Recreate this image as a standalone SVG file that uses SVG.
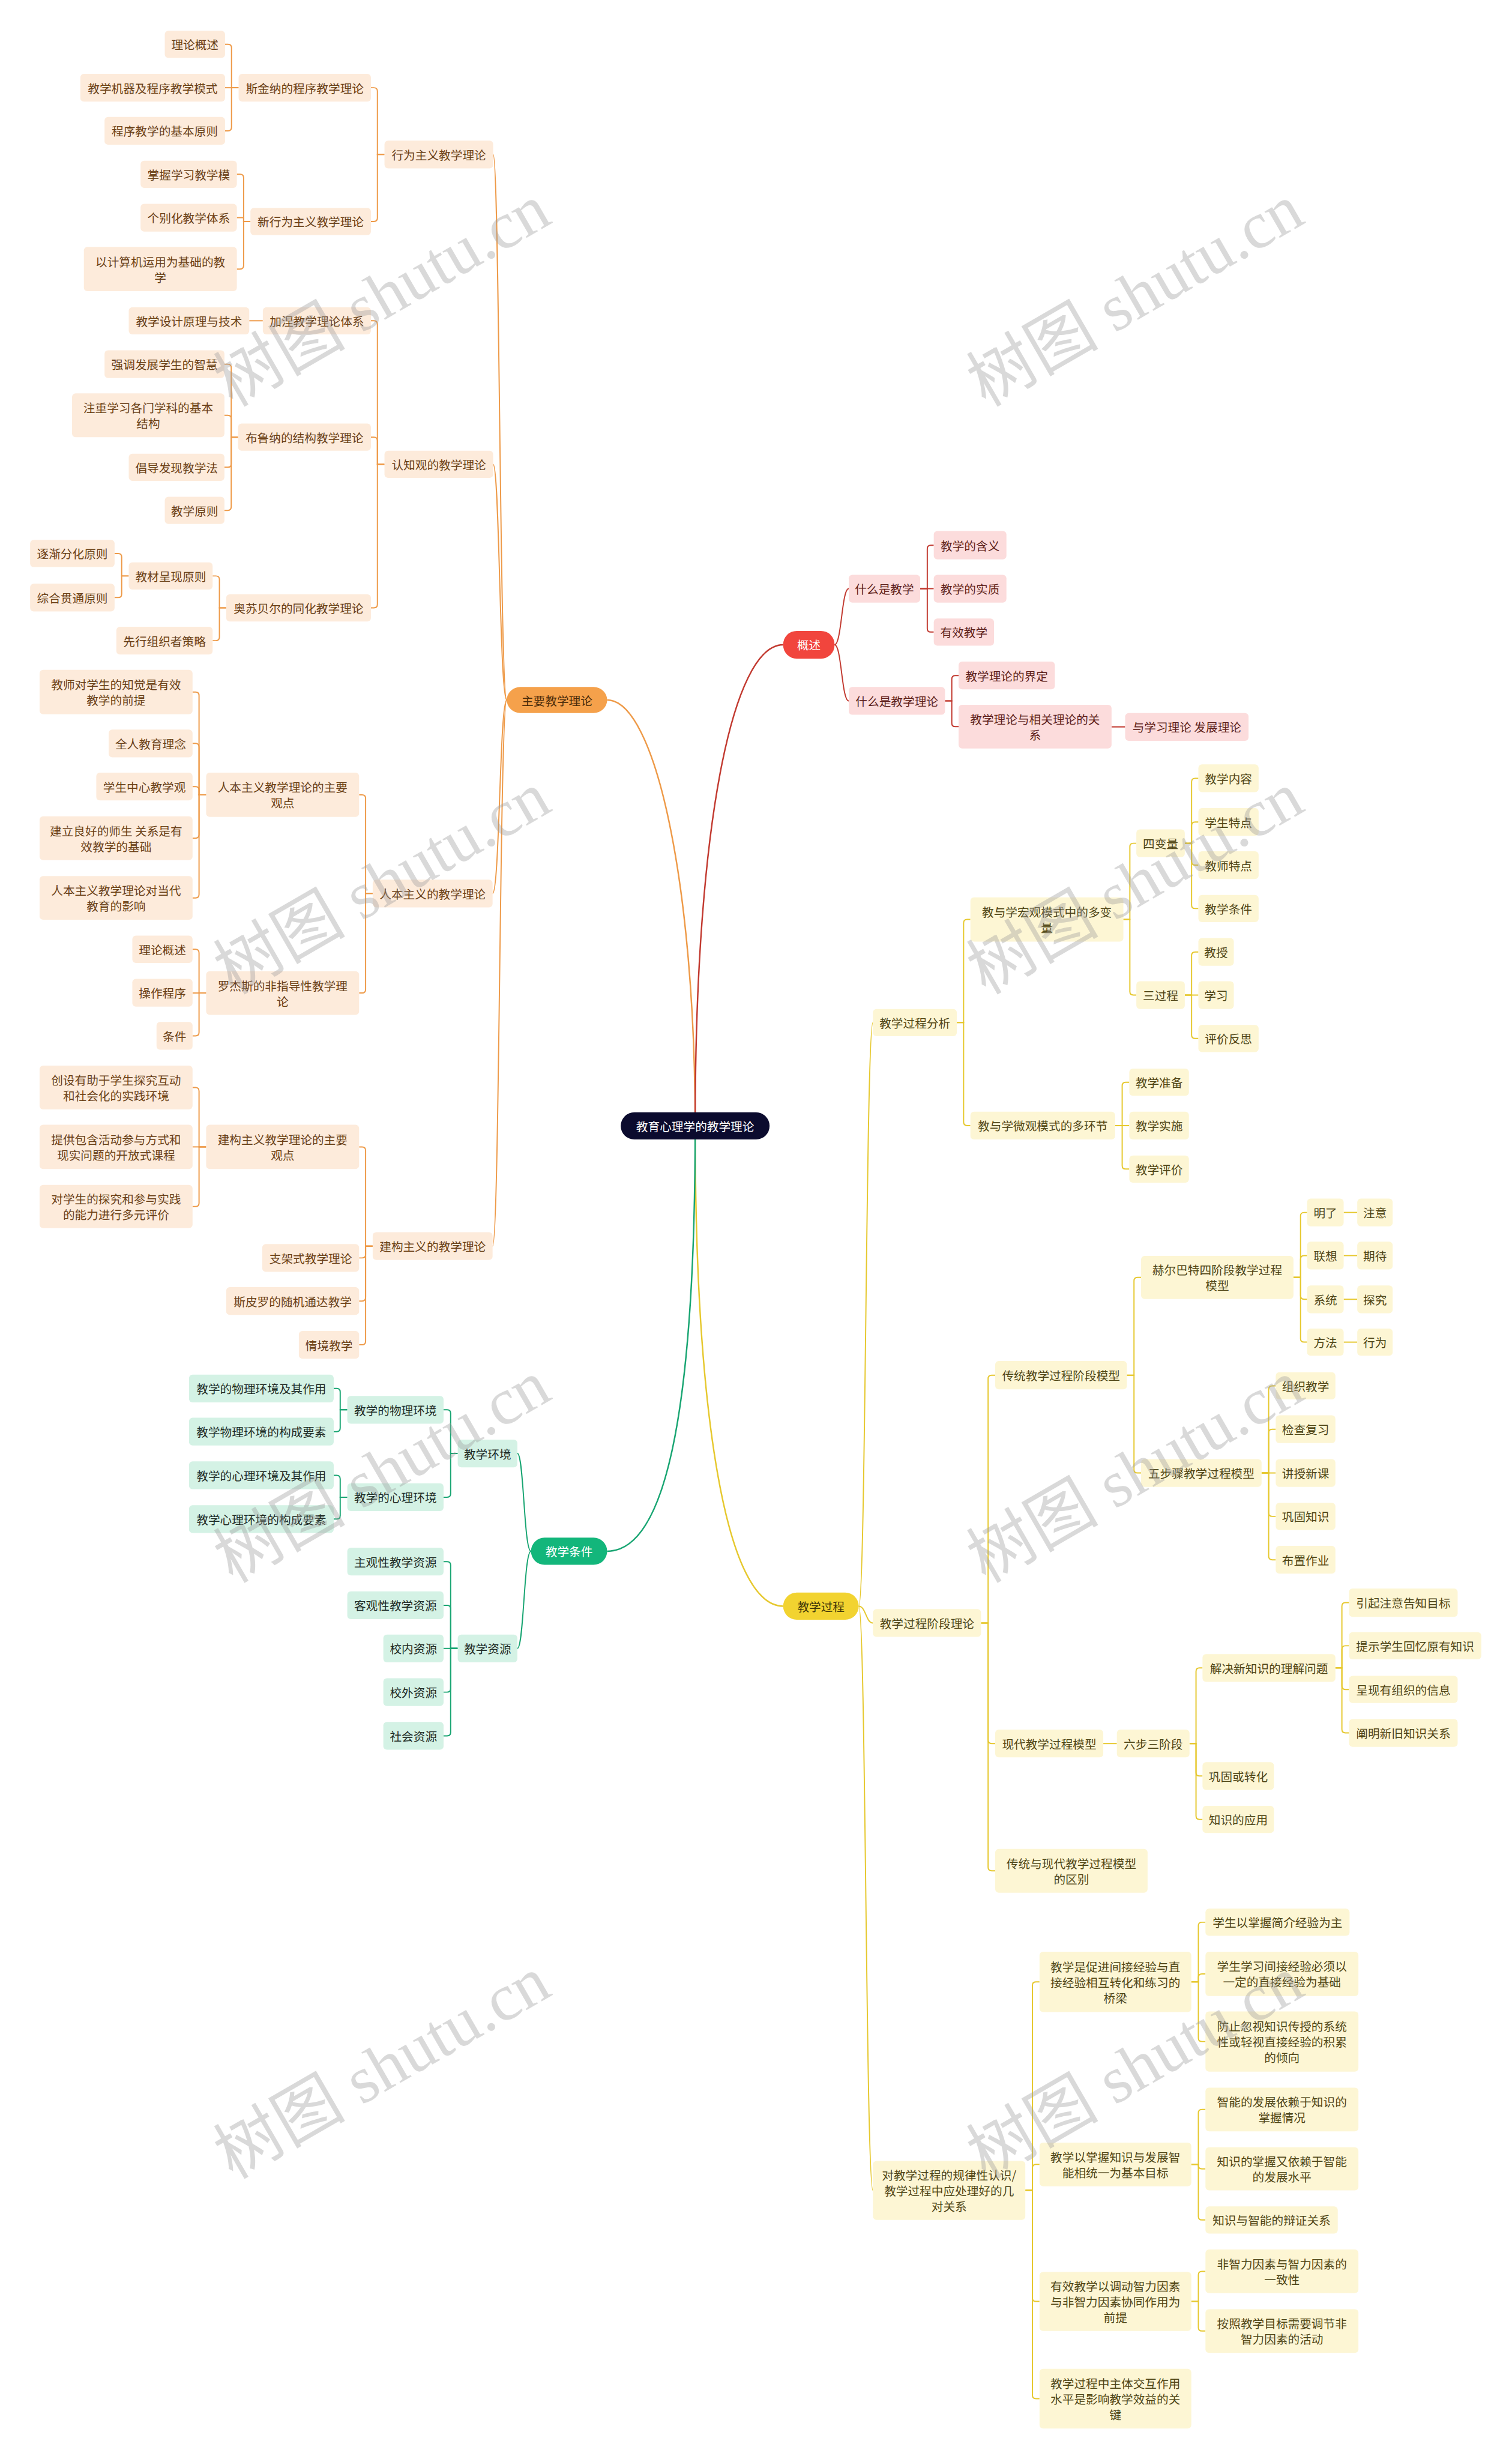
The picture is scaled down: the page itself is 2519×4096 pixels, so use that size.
<svg xmlns="http://www.w3.org/2000/svg" width="2519" height="4096" viewBox="0 0 2519 4096">
<style>
text{font-family:"Noto Sans CJK SC","Noto Sans",sans-serif;font-size:20px;text-anchor:middle;dominant-baseline:central}
rect{rx:6px;ry:6px}
.o rect{fill:#FDEBDB}.o text{fill:#6A4016}
.r rect{fill:#FCDCDC}.r text{fill:#5E1F1A}
.y rect{fill:#FDF6D4}.y text{fill:#4F4515}
.g rect{fill:#D4F2E5}.g text{fill:#1E2B25}
.pill rect{rx:23px;ry:23px}
.ob rect{fill:#F5A14B}.ob text{fill:#4A2C0A}
.rb rect{fill:#F1453D}.rb text{fill:#FFFFFF}
.yb rect{fill:#F2D330}.yb text{fill:#3E3508}
.gb rect{fill:#13B67B}.gb text{fill:#FFFFFF}
.root rect{fill:#0B0B2E}.root text{fill:#FFFFFF}
.co{stroke:#EE9A48}.cr{stroke:#C23A30}.cy{stroke:#E6C82E}.cg{stroke:#18A572}
.wm{font-family:"Liberation Serif","Noto Sans CJK SC",serif;font-size:112px;fill:#9a9a9a;fill-opacity:0.38;text-anchor:middle}
</style>
<rect x="0" y="0" width="2519" height="4096" fill="#FFFFFF" style="rx:0"/>
<g transform="scale(0.98398)">
<g id="connectors" fill="none" stroke-width="2">
<path class="co" stroke-width="2.5" d="M1177 1906 C1177 1500 1110 1185 1028 1185"/>
<path class="cr" stroke-width="2.5" d="M1177 1906 C1177 1400 1240 1091.5 1326 1091.5"/>
<path class="cy" stroke-width="2.5" d="M1177 1906 C1177 2400 1230 2719 1326 2719"/>
<path class="cg" stroke-width="2.5" d="M1177 1906 C1177 2350 1135 2626 1028 2626"/>
<g class="co">
<path d="M835 261.5 C846 261.5 846 1185 858 1185"/>
<path d="M835 786 C846 786 846 1185 858 1185"/>
<path d="M834 1512.5 C846 1512.5 846 1185 858 1185"/>
<path d="M834 2109.5 C846 2109.5 846 1185 858 1185"/>
<path d="M651 261.5 H639 V154.5 Q639 148.5 633 148.5 H628"/>
<path d="M651 261.5 H639 V369 Q639 375 633 375 H628"/>
<path d="M404 148.5 H392 V81 Q392 75 386 75 H381"/>
<path d="M404 148.5 H381"/>
<path d="M404 148.5 H392 V215.5 Q392 221.5 386 221.5 H381"/>
<path d="M424 375 H412.5 V301 Q412.5 295 406.5 295 H401"/>
<path d="M424 375 H412.5 V368.5 H401"/>
<path d="M424 375 H412.5 V449.5 Q412.5 455.5 406.5 455.5 H401"/>
<path d="M651 786 H639 V549 Q639 543 633 543 H628"/>
<path d="M651 786 H639 V746 Q639 740 633 740 H628"/>
<path d="M651 786 H639 V1023 Q639 1029 633 1029 H628"/>
<path d="M445 543 H422"/>
<path d="M403 740 H391.5 V622.5 Q391.5 616.5 385.5 616.5 H380"/>
<path d="M403 740 H391.5 V709 Q391.5 703 385.5 703 H380"/>
<path d="M403 740 H391.5 V785 Q391.5 791 385.5 791 H380"/>
<path d="M403 740 H391.5 V858 Q391.5 864 385.5 864 H380"/>
<path d="M383 1029 H371.5 V981 Q371.5 975 365.5 975 H360"/>
<path d="M383 1029 H371.5 V1078.5 Q371.5 1084.5 365.5 1084.5 H360"/>
<path d="M218 975 H206 V943 Q206 937 200 937 H194"/>
<path d="M218 975 H206 V1005.5 Q206 1011.5 200 1011.5 H194"/>
<path d="M631 1512.5 H619 V1351.5 Q619 1345.5 613 1345.5 H608"/>
<path d="M631 1512.5 H619 V1675 Q619 1681 613 1681 H608"/>
<path d="M349 1345.5 H337 V1177.5 Q337 1171.5 331 1171.5 H326"/>
<path d="M349 1345.5 H337 V1264.5 Q337 1258.5 331 1258.5 H326"/>
<path d="M349 1345.5 H337 V1337.5 Q337 1331.5 331 1331.5 H326"/>
<path d="M349 1345.5 H337 V1413 Q337 1419 331 1419 H326"/>
<path d="M349 1345.5 H337 V1514 Q337 1520 331 1520 H326"/>
<path d="M349 1681 H337 V1613 Q337 1607 331 1607 H326"/>
<path d="M349 1681 H326"/>
<path d="M349 1681 H337 V1747.5 Q337 1753.5 331 1753.5 H326"/>
<path d="M631 2109.5 H619 V1947.5 Q619 1941.5 613 1941.5 H608"/>
<path d="M631 2109.5 H619 V2123.5 Q619 2129.5 613 2129.5 H608"/>
<path d="M631 2109.5 H619 V2196.5 Q619 2202.5 613 2202.5 H608"/>
<path d="M631 2109.5 H619 V2270.5 Q619 2276.5 613 2276.5 H608"/>
<path d="M349 1941.5 H337 V1847 Q337 1841 331 1841 H326"/>
<path d="M349 1941.5 H326"/>
<path d="M349 1941.5 H337 V2036.5 Q337 2042.5 331 2042.5 H326"/>
</g>
<g class="cg">
<path d="M876 2460.5 C887 2460.5 887 2626 899 2626"/>
<path d="M876 2790.5 C887 2790.5 887 2626 899 2626"/>
<path d="M775 2460.5 H763 V2392.5 Q763 2386.5 757 2386.5 H751"/>
<path d="M775 2460.5 H763 V2528.5 Q763 2534.5 757 2534.5 H751"/>
<path d="M588 2386.5 H576 V2356.5 Q576 2350.5 570 2350.5 H565"/>
<path d="M588 2386.5 H576 V2417.5 Q576 2423.5 570 2423.5 H565"/>
<path d="M588 2534.5 H576 V2503.5 Q576 2497.5 570 2497.5 H565"/>
<path d="M588 2534.5 H576 V2565.5 Q576 2571.5 570 2571.5 H565"/>
<path d="M775 2790.5 H763 V2649.5 Q763 2643.5 757 2643.5 H751"/>
<path d="M775 2790.5 H763 V2723.5 Q763 2717.5 757 2717.5 H751"/>
<path d="M775 2790.5 H751"/>
<path d="M775 2790.5 H763 V2858.5 Q763 2864.5 757 2864.5 H751"/>
<path d="M775 2790.5 H763 V2932.5 Q763 2938.5 757 2938.5 H751"/>
</g>
<g class="cr">
<path d="M1413 1091.5 C1425 1091.5 1425 996.5 1437 996.5"/>
<path d="M1413 1091.5 C1425 1091.5 1425 1186.5 1437 1186.5"/>
<path d="M1558 996.5 H1570 V929 Q1570 923 1576 923 H1581"/>
<path d="M1558 996.5 H1581"/>
<path d="M1558 996.5 H1570 V1064 Q1570 1070 1576 1070 H1581"/>
<path d="M1600 1186.5 H1611.5 V1149.5 Q1611.5 1143.5 1617.5 1143.5 H1623"/>
<path d="M1600 1186.5 H1611.5 V1224 Q1611.5 1230 1617.5 1230 H1623"/>
<path d="M1882 1230.5 H1905"/>
</g>
<g class="cy">
<path d="M1454 2719 C1466 2719 1466 1731 1478 1731"/>
<path d="M1454 2719 C1466 2719 1466 2747.5 1478 2747.5"/>
<path d="M1454 2719 C1466 2719 1466 3708 1478 3708"/>
<path d="M1620 1731 H1631.5 V1562.5 Q1631.5 1556.5 1637.5 1556.5 H1643"/>
<path d="M1620 1731 H1631.5 V1899.5 Q1631.5 1905.5 1637.5 1905.5 H1643"/>
<path d="M1902 1556.5 H1913 V1433.5 Q1913 1427.5 1919 1427.5 H1924"/>
<path d="M1902 1556.5 H1913 V1678.5 Q1913 1684.5 1919 1684.5 H1924"/>
<path d="M2006 1427.5 H2017.5 V1323.5 Q2017.5 1317.5 2023.5 1317.5 H2029"/>
<path d="M2006 1427.5 H2017.5 V1397.5 Q2017.5 1391.5 2023.5 1391.5 H2029"/>
<path d="M2006 1427.5 H2017.5 V1458.5 Q2017.5 1464.5 2023.5 1464.5 H2029"/>
<path d="M2006 1427.5 H2017.5 V1532 Q2017.5 1538 2023.5 1538 H2029"/>
<path d="M2006 1684.5 H2017.5 V1617.5 Q2017.5 1611.5 2023.5 1611.5 H2029"/>
<path d="M2006 1684.5 H2029"/>
<path d="M2006 1684.5 H2017.5 V1752 Q2017.5 1758 2023.5 1758 H2029"/>
<path d="M1888 1905.5 H1900 V1838 Q1900 1832 1906 1832 H1912"/>
<path d="M1888 1905.5 H1912"/>
<path d="M1888 1905.5 H1900 V1973 Q1900 1979 1906 1979 H1912"/>
<path d="M1661 2747.5 H1673 V2334 Q1673 2328 1679 2328 H1685"/>
<path d="M1661 2747.5 H1673 V2945.5 Q1673 2951.5 1679 2951.5 H1685"/>
<path d="M1661 2747.5 H1673 V3161 Q1673 3167 1679 3167 H1685"/>
<path d="M1908 2328 H1920 V2168.5 Q1920 2162.5 1926 2162.5 H1932"/>
<path d="M1908 2328 H1920 V2487.5 Q1920 2493.5 1926 2493.5 H1932"/>
<path d="M2190 2162.5 H2202 V2058.5 Q2202 2052.5 2208 2052.5 H2213"/>
<path d="M2190 2162.5 H2202 V2131.5 Q2202 2125.5 2208 2125.5 H2213"/>
<path d="M2190 2162.5 H2202 V2193.5 Q2202 2199.5 2208 2199.5 H2213"/>
<path d="M2190 2162.5 H2202 V2266 Q2202 2272 2208 2272 H2213"/>
<path d="M2275 2052.5 H2298"/>
<path d="M2275 2125.5 H2298"/>
<path d="M2275 2199.5 H2298"/>
<path d="M2275 2272 H2298"/>
<path d="M2136 2493.5 H2148 V2352 Q2148 2346 2154 2346 H2160"/>
<path d="M2136 2493.5 H2148 V2425.5 Q2148 2419.5 2154 2419.5 H2160"/>
<path d="M2136 2493.5 H2160"/>
<path d="M2136 2493.5 H2148 V2561 Q2148 2567 2154 2567 H2160"/>
<path d="M2136 2493.5 H2148 V2634.5 Q2148 2640.5 2154 2640.5 H2160"/>
<path d="M1868 2951.5 H1891"/>
<path d="M2014 2951.5 H2025 V2829.5 Q2025 2823.5 2031 2823.5 H2036"/>
<path d="M2014 2951.5 H2025 V3000.5 Q2025 3006.5 2031 3006.5 H2036"/>
<path d="M2014 2951.5 H2025 V3074 Q2025 3080 2031 3080 H2036"/>
<path d="M2261 2823.5 H2272 V2719 Q2272 2713 2278 2713 H2284"/>
<path d="M2261 2823.5 H2272 V2792 Q2272 2786 2278 2786 H2284"/>
<path d="M2261 2823.5 H2272 V2854 Q2272 2860 2278 2860 H2284"/>
<path d="M2261 2823.5 H2272 V2927.5 Q2272 2933.5 2278 2933.5 H2284"/>
<path d="M1736 3708 H1748 V3361 Q1748 3355 1754 3355 H1760"/>
<path d="M1736 3708 H1748 V3670 Q1748 3664 1754 3664 H1760"/>
<path d="M1736 3708 H1748 V3890 Q1748 3896 1754 3896 H1760"/>
<path d="M1736 3708 H1748 V4054.5 Q1748 4060.5 1754 4060.5 H1760"/>
<path d="M2017 3355 H2029 V3260 Q2029 3254 2035 3254 H2041"/>
<path d="M2017 3355 H2029 V3347.5 Q2029 3341.5 2035 3341.5 H2041"/>
<path d="M2017 3355 H2029 V3450 Q2029 3456 2035 3456 H2041"/>
<path d="M2017 3664 H2029 V3577 Q2029 3571 2035 3571 H2041"/>
<path d="M2017 3664 H2029 V3665.5 Q2029 3671.5 2035 3671.5 H2041"/>
<path d="M2017 3664 H2029 V3752 Q2029 3758 2035 3758 H2041"/>
<path d="M2017 3896 H2029 V3851 Q2029 3845 2035 3845 H2041"/>
<path d="M2017 3896 H2029 V3940 Q2029 3946 2035 3946 H2041"/>
</g>
</g>

<g id="root" class="root pill"><rect x="1051" y="1883" width="252" height="46"/><text x="1177" y="1906">教育心理学的教学理论</text></g>

<g id="b-zyjxll" class="ob pill"><rect x="858" y="1163" width="170" height="44"/><text x="943" y="1185">主要教学理论</text></g>
<g id="o-xwzy" class="o"><rect x="651" y="238" width="184" height="47"/><text x="743" y="261.5">行为主义教学理论</text></g>
<g id="o-sjn" class="o"><rect x="404" y="125" width="224" height="47"/><text x="516" y="148.5">斯金纳的程序教学理论</text></g>
<g id="o-llgs1" class="o"><rect x="279" y="52" width="102" height="46"/><text x="330" y="75">理论概述</text></g>
<g id="o-jxjq" class="o"><rect x="136" y="125" width="245" height="47"/><text x="258.5" y="148.5">教学机器及程序教学模式</text></g>
<g id="o-cxjx" class="o"><rect x="177" y="198" width="204" height="47"/><text x="279" y="221.5">程序教学的基本原则</text></g>
<g id="o-xxwzy" class="o"><rect x="424" y="352" width="204" height="46"/><text x="526" y="375">新行为主义教学理论</text></g>
<g id="o-zwxx" class="o"><rect x="238" y="272" width="163" height="46"/><text x="319.5" y="295">掌握学习教学模</text></g>
<g id="o-gbh" class="o"><rect x="238" y="345" width="163" height="47"/><text x="319.5" y="368.5">个别化教学体系</text></g>
<g id="o-jsj" class="o"><rect x="142" y="418" width="259" height="75"/><text x="271.5" y="442.25">以计算机运用为基础的教</text><text x="271.5" y="468.75">学</text></g>
<g id="o-rzg" class="o"><rect x="651" y="763" width="184" height="46"/><text x="743" y="786">认知观的教学理论</text></g>
<g id="o-jn" class="o"><rect x="445" y="520" width="183" height="46"/><text x="536.5" y="543">加涅教学理论体系</text></g>
<g id="o-jxsj" class="o"><rect x="218" y="520" width="204" height="46"/><text x="320" y="543">教学设计原理与技术</text></g>
<g id="o-bln" class="o"><rect x="403" y="717" width="225" height="46"/><text x="515.5" y="740">布鲁纳的结构教学理论</text></g>
<g id="o-qd" class="o"><rect x="177" y="593" width="203" height="47"/><text x="278.5" y="616.5">强调发展学生的智慧</text></g>
<g id="o-zz" class="o"><rect x="122" y="666" width="258" height="74"/><text x="251" y="689.75">注重学习各门学科的基本</text><text x="251" y="716.25">结构</text></g>
<g id="o-cd" class="o"><rect x="218" y="768" width="162" height="46"/><text x="299" y="791">倡导发现教学法</text></g>
<g id="o-jxyz" class="o"><rect x="279" y="841" width="101" height="46"/><text x="329.5" y="864">教学原则</text></g>
<g id="o-asbe" class="o"><rect x="383" y="1006" width="245" height="46"/><text x="505.5" y="1029">奥苏贝尔的同化教学理论</text></g>
<g id="o-jccx" class="o"><rect x="218" y="952" width="142" height="46"/><text x="289" y="975">教材呈现原则</text></g>
<g id="o-xxzz" class="o"><rect x="197" y="1061" width="163" height="47"/><text x="278.5" y="1084.5">先行组织者策略</text></g>
<g id="o-zjfh" class="o"><rect x="51" y="914" width="143" height="46"/><text x="122.5" y="937">逐渐分化原则</text></g>
<g id="o-zhgt" class="o"><rect x="51" y="988" width="143" height="47"/><text x="122.5" y="1011.5">综合贯通原则</text></g>
<g id="o-rbzy" class="o"><rect x="631" y="1489" width="203" height="47"/><text x="732.5" y="1512.5">人本主义的教学理论</text></g>
<g id="o-rbgd" class="o"><rect x="349" y="1308" width="259" height="75"/><text x="478.5" y="1332.25">人本主义教学理论的主要</text><text x="478.5" y="1358.75">观点</text></g>
<g id="o-jsdx" class="o"><rect x="67" y="1134" width="259" height="75"/><text x="196.5" y="1158.25">教师对学生的知觉是有效</text><text x="196.5" y="1184.75">教学的前提</text></g>
<g id="o-qr" class="o"><rect x="184" y="1235" width="142" height="47"/><text x="255" y="1258.5">全人教育理念</text></g>
<g id="o-xszx" class="o"><rect x="163" y="1308" width="163" height="47"/><text x="244.5" y="1331.5">学生中心教学观</text></g>
<g id="o-jllh" class="o"><rect x="67" y="1382" width="259" height="74"/><text x="196.5" y="1405.75">建立良好的师生 关系是有</text><text x="196.5" y="1432.25">效教学的基础</text></g>
<g id="o-rbyx" class="o"><rect x="67" y="1483" width="259" height="74"/><text x="196.5" y="1506.75">人本主义教学理论对当代</text><text x="196.5" y="1533.25">教育的影响</text></g>
<g id="o-ljs" class="o"><rect x="349" y="1644" width="259" height="74"/><text x="478.5" y="1667.75">罗杰斯的非指导性教学理</text><text x="478.5" y="1694.25">论</text></g>
<g id="o-llgs2" class="o"><rect x="224" y="1584" width="102" height="46"/><text x="275" y="1607">理论概述</text></g>
<g id="o-czcx" class="o"><rect x="224" y="1657" width="102" height="47"/><text x="275" y="1680.5">操作程序</text></g>
<g id="o-tj" class="o"><rect x="265" y="1730" width="61" height="47"/><text x="295.5" y="1753.5">条件</text></g>
<g id="o-jgzy" class="o"><rect x="631" y="2086" width="203" height="47"/><text x="732.5" y="2109.5">建构主义的教学理论</text></g>
<g id="o-jggd" class="o"><rect x="349" y="1904" width="259" height="75"/><text x="478.5" y="1928.25">建构主义教学理论的主要</text><text x="478.5" y="1954.75">观点</text></g>
<g id="o-cs" class="o"><rect x="67" y="1804" width="259" height="74"/><text x="196.5" y="1827.75">创设有助于学生探究互动</text><text x="196.5" y="1854.25">和社会化的实践环境</text></g>
<g id="o-tg" class="o"><rect x="67" y="1904" width="259" height="75"/><text x="196.5" y="1928.25">提供包含活动参与方式和</text><text x="196.5" y="1954.75">现实问题的开放式课程</text></g>
<g id="o-dxs" class="o"><rect x="67" y="2006" width="259" height="73"/><text x="196.5" y="2029.25">对学生的探究和参与实践</text><text x="196.5" y="2055.75">的能力进行多元评价</text></g>
<g id="o-zjs" class="o"><rect x="444" y="2106" width="164" height="47"/><text x="526" y="2129.5">支架式教学理论</text></g>
<g id="o-spl" class="o"><rect x="383" y="2179" width="225" height="47"/><text x="495.5" y="2202.5">斯皮罗的随机通达教学</text></g>
<g id="o-qjjx" class="o"><rect x="506" y="2253" width="102" height="47"/><text x="557" y="2276.5">情境教学</text></g>

<g id="b-jxtj" class="gb pill"><rect x="899" y="2603" width="129" height="46"/><text x="963.5" y="2626">教学条件</text></g>
<g id="g-jxhj" class="g"><rect x="775" y="2437" width="101" height="47"/><text x="825.5" y="2460.5">教学环境</text></g>
<g id="g-jxzy" class="g"><rect x="775" y="2767" width="101" height="47"/><text x="825.5" y="2790.5">教学资源</text></g>
<g id="g-wlhj" class="g"><rect x="588" y="2363" width="163" height="47"/><text x="669.5" y="2386.5">教学的物理环境</text></g>
<g id="g-xlhj" class="g"><rect x="588" y="2511" width="163" height="47"/><text x="669.5" y="2534.5">教学的心理环境</text></g>
<g id="g-wl1" class="g"><rect x="320" y="2327" width="245" height="47"/><text x="442.5" y="2350.5">教学的物理环境及其作用</text></g>
<g id="g-wl2" class="g"><rect x="320" y="2400" width="245" height="47"/><text x="442.5" y="2423.5">教学物理环境的构成要素</text></g>
<g id="g-xl1" class="g"><rect x="320" y="2474" width="245" height="47"/><text x="442.5" y="2497.5">教学的心理环境及其作用</text></g>
<g id="g-xl2" class="g"><rect x="320" y="2548" width="245" height="47"/><text x="442.5" y="2571.5">教学心理环境的构成要素</text></g>
<g id="g-zgx" class="g"><rect x="588" y="2620" width="163" height="47"/><text x="669.5" y="2643.5">主观性教学资源</text></g>
<g id="g-kgx" class="g"><rect x="588" y="2694" width="163" height="47"/><text x="669.5" y="2717.5">客观性教学资源</text></g>
<g id="g-xn" class="g"><rect x="649" y="2767" width="102" height="47"/><text x="700" y="2790.5">校内资源</text></g>
<g id="g-xw" class="g"><rect x="649" y="2841" width="102" height="47"/><text x="700" y="2864.5">校外资源</text></g>
<g id="g-sh" class="g"><rect x="649" y="2915" width="102" height="47"/><text x="700" y="2938.5">社会资源</text></g>

<g id="b-gs" class="rb pill"><rect x="1326" y="1068" width="87" height="47"/><text x="1369.5" y="1091.5">概述</text></g>
<g id="r-smsjx" class="r"><rect x="1437" y="973" width="121" height="47"/><text x="1497.5" y="996.5">什么是教学</text></g>
<g id="r-smsll" class="r"><rect x="1437" y="1163" width="163" height="47"/><text x="1518.5" y="1186.5">什么是教学理论</text></g>
<g id="r-hy" class="r"><rect x="1581" y="899" width="123" height="48"/><text x="1642.5" y="923">教学的含义</text></g>
<g id="r-sz" class="r"><rect x="1581" y="973" width="123" height="47"/><text x="1642.5" y="996.5">教学的实质</text></g>
<g id="r-yx" class="r"><rect x="1581" y="1047" width="102" height="46"/><text x="1632" y="1070">有效教学</text></g>
<g id="r-jd" class="r"><rect x="1623" y="1120" width="163" height="47"/><text x="1704.5" y="1143.5">教学理论的界定</text></g>
<g id="r-gx" class="r"><rect x="1623" y="1193" width="259" height="74"/><text x="1752.5" y="1216.75">教学理论与相关理论的关</text><text x="1752.5" y="1243.25">系</text></g>
<g id="r-yxx" class="r"><rect x="1905" y="1207" width="209" height="47"/><text x="2009.5" y="1230.5">与学习理论 发展理论</text></g>

<g id="b-jxgc" class="yb pill"><rect x="1326" y="2696" width="128" height="46"/><text x="1390" y="2719">教学过程</text></g>
<g id="y-gcfx" class="y"><rect x="1478" y="1708" width="142" height="46"/><text x="1549" y="1731">教学过程分析</text></g>
<g id="y-hg" class="y"><rect x="1643" y="1519" width="259" height="75"/><text x="1772.5" y="1543.25">教与学宏观模式中的多变</text><text x="1772.5" y="1569.75">量</text></g>
<g id="y-wg" class="y"><rect x="1643" y="1882" width="245" height="47"/><text x="1765.5" y="1905.5">教与学微观模式的多环节</text></g>
<g id="y-sbl" class="y"><rect x="1924" y="1404" width="82" height="47"/><text x="1965" y="1427.5">四变量</text></g>
<g id="y-sgc" class="y"><rect x="1924" y="1661" width="82" height="47"/><text x="1965" y="1684.5">三过程</text></g>
<g id="y-jxnr" class="y"><rect x="2029" y="1294" width="102" height="47"/><text x="2080" y="1317.5">教学内容</text></g>
<g id="y-xstd" class="y"><rect x="2029" y="1368" width="102" height="47"/><text x="2080" y="1391.5">学生特点</text></g>
<g id="y-jstd" class="y"><rect x="2029" y="1441" width="102" height="47"/><text x="2080" y="1464.5">教师特点</text></g>
<g id="y-jxtj" class="y"><rect x="2029" y="1515" width="102" height="46"/><text x="2080" y="1538">教学条件</text></g>
<g id="y-js" class="y"><rect x="2029" y="1588" width="60" height="47"/><text x="2059" y="1611.5">教授</text></g>
<g id="y-xx" class="y"><rect x="2029" y="1661" width="60" height="47"/><text x="2059" y="1684.5">学习</text></g>
<g id="y-pjfs" class="y"><rect x="2029" y="1735" width="102" height="46"/><text x="2080" y="1758">评价反思</text></g>
<g id="y-jxzb" class="y"><rect x="1912" y="1809" width="101" height="46"/><text x="1962.5" y="1832">教学准备</text></g>
<g id="y-jxss" class="y"><rect x="1912" y="1882" width="101" height="47"/><text x="1962.5" y="1905.5">教学实施</text></g>
<g id="y-jxpj" class="y"><rect x="1912" y="1956" width="101" height="46"/><text x="1962.5" y="1979">教学评价</text></g>
<g id="y-jdll" class="y"><rect x="1478" y="2724" width="183" height="47"/><text x="1569.5" y="2747.5">教学过程阶段理论</text></g>
<g id="y-ct" class="y"><rect x="1685" y="2304" width="223" height="48"/><text x="1796.5" y="2328">传统教学过程阶段模型</text></g>
<g id="y-hebt" class="y"><rect x="1932" y="2126" width="258" height="73"/><text x="2061" y="2149.25">赫尔巴特四阶段教学过程</text><text x="2061" y="2175.75">模型</text></g>
<g id="y-ml" class="y"><rect x="2213" y="2029" width="62" height="47"/><text x="2244" y="2052.5">明了</text></g>
<g id="y-zy" class="y"><rect x="2298" y="2029" width="60" height="47"/><text x="2328" y="2052.5">注意</text></g>
<g id="y-lx" class="y"><rect x="2213" y="2102" width="62" height="47"/><text x="2244" y="2125.5">联想</text></g>
<g id="y-qd" class="y"><rect x="2298" y="2102" width="60" height="47"/><text x="2328" y="2125.5">期待</text></g>
<g id="y-xt" class="y"><rect x="2213" y="2176" width="62" height="47"/><text x="2244" y="2199.5">系统</text></g>
<g id="y-tj" class="y"><rect x="2298" y="2176" width="60" height="47"/><text x="2328" y="2199.5">探究</text></g>
<g id="y-ff" class="y"><rect x="2213" y="2249" width="62" height="46"/><text x="2244" y="2272">方法</text></g>
<g id="y-xw" class="y"><rect x="2298" y="2249" width="60" height="46"/><text x="2328" y="2272">行为</text></g>
<g id="y-wbz" class="y"><rect x="1932" y="2470" width="204" height="47"/><text x="2034" y="2493.5">五步骤教学过程模型</text></g>
<g id="y-zzjx" class="y"><rect x="2160" y="2323" width="101" height="46"/><text x="2210.5" y="2346">组织教学</text></g>
<g id="y-jcfx" class="y"><rect x="2160" y="2396" width="101" height="47"/><text x="2210.5" y="2419.5">检查复习</text></g>
<g id="y-jsxk" class="y"><rect x="2160" y="2470" width="101" height="47"/><text x="2210.5" y="2493.5">讲授新课</text></g>
<g id="y-ggzs" class="y"><rect x="2160" y="2544" width="101" height="46"/><text x="2210.5" y="2567">巩固知识</text></g>
<g id="y-bzzy" class="y"><rect x="2160" y="2617" width="101" height="47"/><text x="2210.5" y="2640.5">布置作业</text></g>
<g id="y-xd" class="y"><rect x="1685" y="2928" width="183" height="47"/><text x="1776.5" y="2951.5">现代教学过程模型</text></g>
<g id="y-lbsjd" class="y"><rect x="1891" y="2928" width="123" height="47"/><text x="1952.5" y="2951.5">六步三阶段</text></g>
<g id="y-jj" class="y"><rect x="2036" y="2800" width="225" height="47"/><text x="2148.5" y="2823.5">解决新知识的理解问题</text></g>
<g id="y-gghzh" class="y"><rect x="2036" y="2983" width="121" height="47"/><text x="2096.5" y="3006.5">巩固或转化</text></g>
<g id="y-zsyy" class="y"><rect x="2036" y="3057" width="121" height="46"/><text x="2096.5" y="3080">知识的应用</text></g>
<g id="y-yq" class="y"><rect x="2284" y="2689" width="184" height="48"/><text x="2376" y="2713">引起注意告知目标</text></g>
<g id="y-ts" class="y"><rect x="2284" y="2763" width="224" height="46"/><text x="2396" y="2786">提示学生回忆原有知识</text></g>
<g id="y-cx" class="y"><rect x="2284" y="2837" width="184" height="46"/><text x="2376" y="2860">呈现有组织的信息</text></g>
<g id="y-cm" class="y"><rect x="2284" y="2910" width="184" height="47"/><text x="2376" y="2933.5">阐明新旧知识关系</text></g>
<g id="y-qb" class="y"><rect x="1685" y="3130" width="258" height="74"/><text x="1814" y="3153.75">传统与现代教学过程模型</text><text x="1814" y="3180.25">的区别</text></g>
<g id="y-glx" class="y"><rect x="1478" y="3658" width="258" height="100"/><text x="1607" y="3681.5">对教学过程的规律性认识/</text><text x="1607" y="3708">教学过程中应处理好的几</text><text x="1607" y="3734.5">对关系</text></g>
<g id="y-ql" class="y"><rect x="1760" y="3304" width="257" height="102"/><text x="1888.5" y="3328.5">教学是促进间接经验与直</text><text x="1888.5" y="3355">接经验相互转化和练习的</text><text x="1888.5" y="3381.5">桥梁</text></g>
<g id="y-jjjy" class="y"><rect x="2041" y="3231" width="244" height="46"/><text x="2163" y="3254">学生以掌握简介经验为主</text></g>
<g id="y-bxy" class="y"><rect x="2041" y="3304" width="259" height="75"/><text x="2170.5" y="3328.25">学生学习间接经验必须以</text><text x="2170.5" y="3354.75">一定的直接经验为基础</text></g>
<g id="y-fz" class="y"><rect x="2041" y="3405" width="259" height="102"/><text x="2170.5" y="3429.5">防止忽视知识传授的系统</text><text x="2170.5" y="3456">性或轻视直接经验的积累</text><text x="2170.5" y="3482.5">的倾向</text></g>
<g id="y-mb" class="y"><rect x="1760" y="3627" width="257" height="74"/><text x="1888.5" y="3650.75">教学以掌握知识与发展智</text><text x="1888.5" y="3677.25">能相统一为基本目标</text></g>
<g id="y-znfz" class="y"><rect x="2041" y="3534" width="259" height="74"/><text x="2170.5" y="3557.75">智能的发展依赖于知识的</text><text x="2170.5" y="3584.25">掌握情况</text></g>
<g id="y-zszw" class="y"><rect x="2041" y="3635" width="259" height="73"/><text x="2170.5" y="3658.25">知识的掌握又依赖于智能</text><text x="2170.5" y="3684.75">的发展水平</text></g>
<g id="y-bz" class="y"><rect x="2041" y="3735" width="224" height="46"/><text x="2153" y="3758">知识与智能的辩证关系</text></g>
<g id="y-qt" class="y"><rect x="1760" y="3846" width="257" height="100"/><text x="1888.5" y="3869.5">有效教学以调动智力因素</text><text x="1888.5" y="3896">与非智力因素协同作用为</text><text x="1888.5" y="3922.5">前提</text></g>
<g id="y-yzx" class="y"><rect x="2041" y="3808" width="259" height="74"/><text x="2170.5" y="3831.75">非智力因素与智力因素的</text><text x="2170.5" y="3858.25">一致性</text></g>
<g id="y-az" class="y"><rect x="2041" y="3909" width="259" height="74"/><text x="2170.5" y="3932.75">按照教学目标需要调节非</text><text x="2170.5" y="3959.25">智力因素的活动</text></g>
<g id="y-gj" class="y"><rect x="1760" y="4010" width="257" height="101"/><text x="1888.5" y="4034">教学过程中主体交互作用</text><text x="1888.5" y="4060.5">水平是影响教学效益的关</text><text x="1888.5" y="4087">键</text></g>

<g id="watermarks">
<text class="wm" x="630" y="505" transform="rotate(-30 630 471)">树图 shutu.cn</text>
<text class="wm" x="1905" y="505" transform="rotate(-30 1905 471)">树图 shutu.cn</text>
<text class="wm" x="630" y="1500" transform="rotate(-30 630 1466)">树图 shutu.cn</text>
<text class="wm" x="1905" y="1500" transform="rotate(-30 1905 1466)">树图 shutu.cn</text>
<text class="wm" x="630" y="2496" transform="rotate(-30 630 2462)">树图 shutu.cn</text>
<text class="wm" x="1905" y="2496" transform="rotate(-30 1905 2462)">树图 shutu.cn</text>
<text class="wm" x="630" y="3505" transform="rotate(-30 630 3471)">树图 shutu.cn</text>
<text class="wm" x="1905" y="3505" transform="rotate(-30 1905 3471)">树图 shutu.cn</text>
</g>
</g>
</svg>
